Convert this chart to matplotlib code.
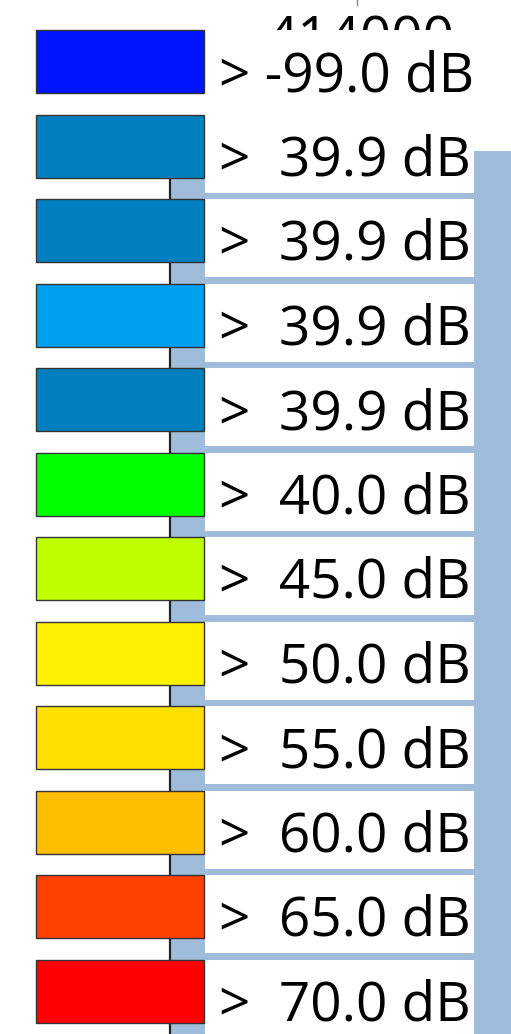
import matplotlib.pyplot as plt
from matplotlib.patches import Rectangle

plt.rcParams["font.family"] = ["Open Sans", "DejaVu Sans"]

# legend entries (threshold in dB, swatch colour)
thresholds = [-99.0, 39.9, 39.9, 39.9, 39.9, 40.0, 45.0, 50.0, 55.0, 60.0, 65.0, 70.0]
colors = [
    "#0014FF", "#0080C0", "#0080C0", "#00A0F0", "#0080C0", "#00FF00",
    "#C0FF00", "#FFF200", "#FFE000", "#FFBF00", "#FF4000", "#FF0000",
]
top_tick_label = "414000"

W, H = 511, 1034
fig = plt.figure(figsize=(W / 100, H / 100), dpi=100)

# map/plot area behind the legend
ax = fig.add_axes([170 / W, 0, (W - 170) / W, (H - 151) / H])
ax.set_facecolor("#A0BCDB")
ax.set_xticks([])
ax.set_yticks([])
for side in ["top", "right", "bottom"]:
    ax.spines[side].set_visible(False)
ax.spines["left"].set_color("#222222")
ax.spines["left"].set_linewidth(1.6)

# overlay in pixel coordinates for the legend
lg = fig.add_axes([0, 0, 1, 1], zorder=2)
lg.set_xlim(0, W)
lg.set_ylim(H, 0)
lg.axis("off")
lg.patch.set_alpha(0)

row0, pitch = 30, 84.5

# scale tick + label peeking out above the legend (the rest is hidden by it)
lg.plot([357, 357], [0, 5], color="#888888", lw=1)
t = lg.text(361, 56, top_tick_label, fontsize=39.5, ha="center", va="baseline")
clip = Rectangle((0, 0), W, row0, transform=lg.transData, visible=False)
lg.add_patch(clip)
t.set_clip_path(clip)

for i, (thr, col) in enumerate(zip(thresholds, colors)):
    y = row0 + i * pitch
    lg.add_patch(Rectangle((205, y), 269, 78, facecolor="white", edgecolor="none", zorder=3))
    lg.add_patch(Rectangle((36, y), 168, 63, facecolor=col, edgecolor="#333333", lw=1, zorder=4))
    lg.text(219, y + 61, "> %5.1f dB" % thr, fontsize=39.5, ha="left", va="baseline", zorder=5)

fig.savefig("out.png", dpi=100)
